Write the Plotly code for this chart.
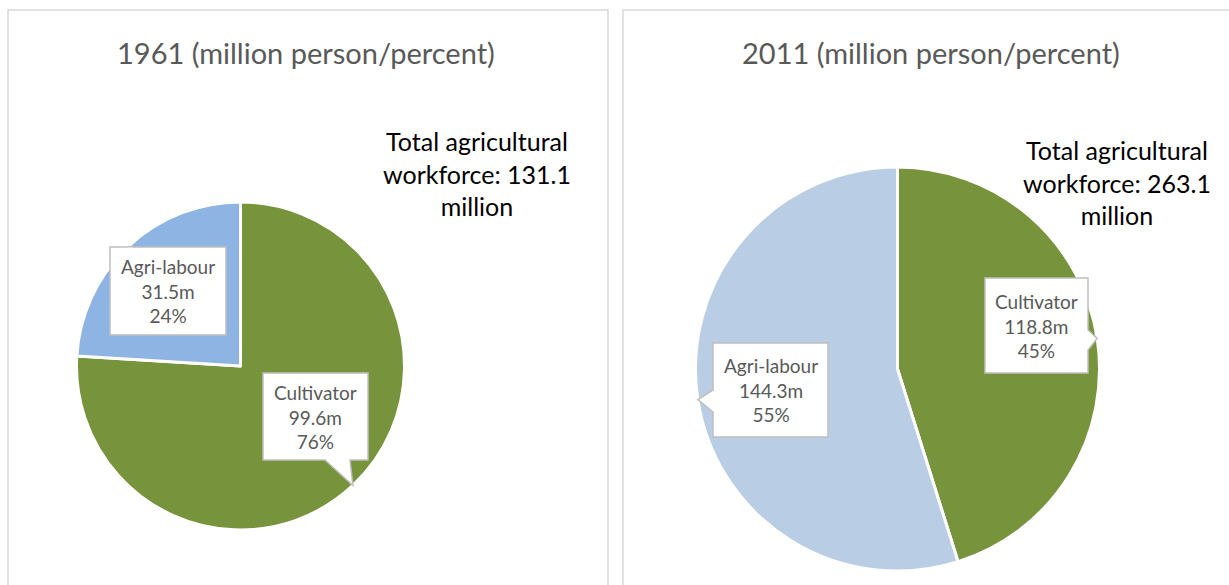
import math
import plotly.graph_objects as go

W, H = 1229, 585

# ---- data -------------------------------------------------------------
categories = ["Cultivator", "Agri-labour"]
years = ["1961", "2011"]
values_1961 = [99.6, 31.5]          # million persons
values_2011 = [118.8, 144.3]
percent_1961 = [76, 24]
percent_2011 = [45, 55]
totals = [131.1, 263.1]              # total agricultural workforce, million

# ---- styling ----------------------------------------------------------
GREEN = "#77933C"
BLUE_1961 = "#8EB4E3"
BLUE_2011 = "#B9CDE5"
TEXT_GREY = "#595959"
FONT = "Lato, 'Open Sans', sans-serif"

# pie placement in pixels: centre x, centre y (from top), radius
pies = [
    dict(cx=240.5, cy=366, r=164, colors=[GREEN, BLUE_1961]),
    dict(cx=897.5, cy=369, r=202, colors=[GREEN, BLUE_2011]),
]

# callout boxes (left, top, right, bottom) in pixels, per pie per category,
# plus which edge the pointer leaves from
callouts = [
    [dict(box=(263, 373, 368, 460), edge="bottom", base=(325, 350)),
     dict(box=(110, 247, 226, 335), edge="top", base=(127, 134))],
    [dict(box=(985, 278, 1088, 373), edge="right", base=(330, 350)),
     dict(box=(713, 343, 828, 437), edge="left", base=(390, 412))],
]

titles_pos = [306, 931]
total_pos = [(477, 173), (1117, 182)]


def px(x):
    return x / W


def py(y):
    return 1 - y / H


def label(x, y, text, size, color):
    fig.add_annotation(
        x=px(x), y=py(y), xref="paper", yref="paper",
        xanchor="center", yanchor="middle",
        text=text, showarrow=False, align="center",
        font=dict(family=FONT, size=size, color=color),
    )


fig = go.Figure()

series = [values_1961, values_2011]
percents = [percent_1961, percent_2011]

for i, p in enumerate(pies):
    vals = series[i]
    fig.add_trace(go.Pie(
        labels=categories,
        values=vals,
        sort=False,
        direction="clockwise",
        rotation=0,
        textinfo="none",
        hoverinfo="skip",
        showlegend=False,
        marker=dict(colors=p["colors"], line=dict(color="white", width=3)),
        domain=dict(x=[px(p["cx"] - p["r"]), px(p["cx"] + p["r"])],
                    y=[py(p["cy"] + p["r"]), py(p["cy"] - p["r"])]),
    ))

    # pointer tips sit on the rim at each slice's mid-angle
    total = sum(vals)
    cum = 0.0
    for j, v in enumerate(vals):
        mid = (cum + v / 2) / total * 2 * math.pi
        cum += v
        tip_x = p["cx"] + p["r"] * math.sin(mid)
        tip_y = p["cy"] - p["r"] * math.cos(mid)

        c = callouts[i][j]
        l, t, r, b = c["box"]
        b0, b1 = c["base"]
        if c["edge"] == "bottom":
            pts = [(l, t), (r, t), (r, b), (b1, b), (tip_x, tip_y), (b0, b), (l, b)]
        elif c["edge"] == "top":
            pts = [(l, t), (b0, t), (tip_x, tip_y), (b1, t), (r, t), (r, b), (l, b)]
        elif c["edge"] == "right":
            pts = [(l, t), (r, t), (r, b0), (tip_x, tip_y), (r, b1), (r, b), (l, b)]
        else:
            pts = [(l, t), (r, t), (r, b), (l, b), (l, b1), (tip_x, tip_y), (l, b0)]
        path = "M " + " L ".join(f"{px(x):.5f},{py(y):.5f}" for x, y in pts) + " Z"
        fig.add_shape(type="path", xref="paper", yref="paper", path=path,
                      fillcolor="white", line=dict(color="#BFBFBF", width=1.5))
        label((l + r) / 2, (t + b) / 2,
              f"{categories[j]}<br>{v}m<br>{percents[i][j]}%", 19, TEXT_GREY)

    label(titles_pos[i], 52, f"{years[i]} (million person/percent)", 29, TEXT_GREY)
    tx, ty = total_pos[i]
    label(tx, ty, f"Total agricultural<br>workforce: {totals[i]}<br>million", 25, "black")

# chart panel frames
for x0, x1 in [(8, 608), (623, 1240)]:
    fig.add_shape(type="rect", xref="paper", yref="paper",
                  x0=px(x0), x1=px(x1), y0=py(600), y1=py(10),
                  line=dict(color="#D9D9D9", width=1.5), layer="below")

fig.update_layout(
    width=W, height=H,
    margin=dict(l=0, r=0, t=0, b=0),
    paper_bgcolor="white", plot_bgcolor="white",
)

fig.write_html("out.html", config={"displayModeBar": False})
